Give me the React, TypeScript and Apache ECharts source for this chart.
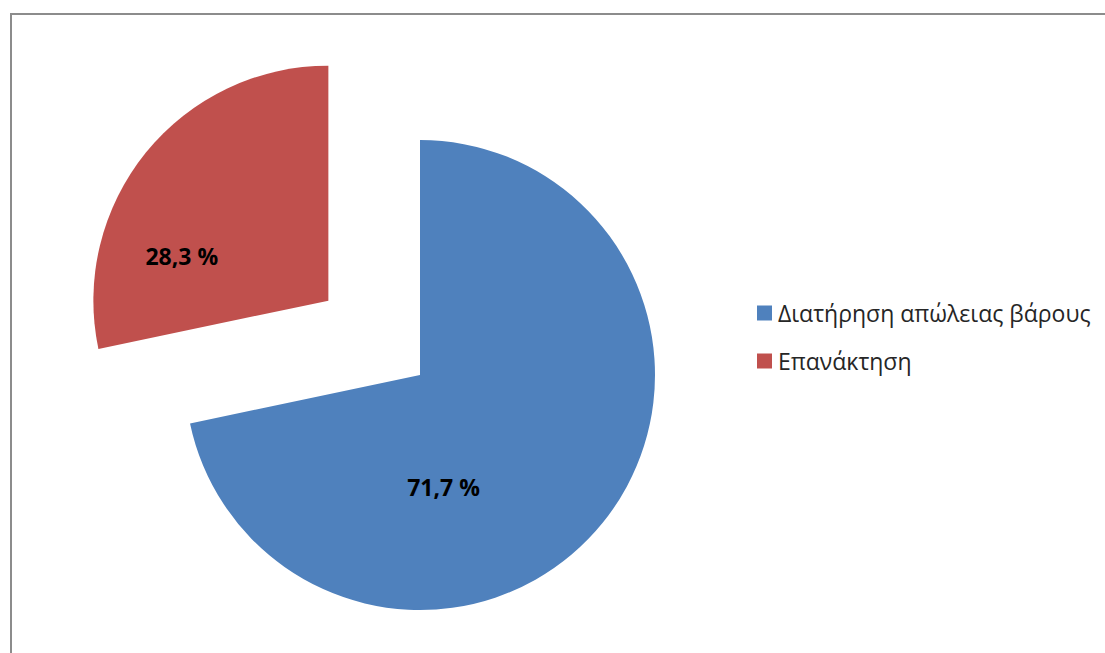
import React, { useEffect, useRef } from "react";
import * as echarts from "echarts";

const categories = ["Διατήρηση απώλειας βάρους", "Επανάκτηση"];
const values = [71.7, 28.3];
const labels = ["71,7 %", "28,3 %"];
const colors = ["#4F81BD", "#C0504D"];
const exploded = [false, true];

export default function App() {
  const ref = useRef<HTMLDivElement>(null);
  useEffect(() => {
    if (!ref.current) return;
    const chart = echarts.init(ref.current, undefined, { renderer: "svg" });
    const labelShift = [
      { dx: -70, dy: 36 },
      { dx: -53, dy: 31 },
    ];
    chart.setOption({
      animation: false,
      backgroundColor: "#ffffff",
      graphic: [
        {
          type: "rect",
          shape: { x: 11, y: 14, width: 1120, height: 700 },
          style: { fill: "none", stroke: "#8c8c8c", lineWidth: 2 },
          silent: true,
        },
      ],
      legend: {
        orient: "vertical",
        left: 752,
        top: 296,
        icon: "rect",
        itemWidth: 15,
        itemHeight: 15,
        itemGap: 24,
        selectedMode: false,
        textStyle: {
          fontFamily: "Open Sans",
          fontSize: 23,
          lineHeight: 24,
          color: "#262626",
          padding: [0, 0, 0, 1],
        },
        data: categories,
      },
      series: [
        {
          type: "pie",
          center: [420, 375],
          radius: 235,
          startAngle: 90,
          clockwise: true,
          selectedMode: "single",
          selectedOffset: 118,
          label: {
            show: true,
            position: "inside",
            fontFamily: "Open Sans",
            fontWeight: "bold",
            fontSize: 23,
            color: "#000000",
            formatter: (p: any) => labels[p.dataIndex],
          },
          labelLayout: (p: any) => labelShift[p.dataIndex],
          labelLine: { show: false },
          emphasis: { disabled: true },
          data: categories.map((name, i) => ({
            name,
            value: values[i],
            selected: exploded[i],
            itemStyle: { color: colors[i] },
            select: { itemStyle: { color: colors[i], borderWidth: 0 } },
          })),
        },
      ],
    });
    return () => chart.dispose();
  }, []);
  return (
    <div
      ref={ref}
      style={{ position: "absolute", left: 0, top: 0, width: 1105, height: 653 }}
    />
  );
}
